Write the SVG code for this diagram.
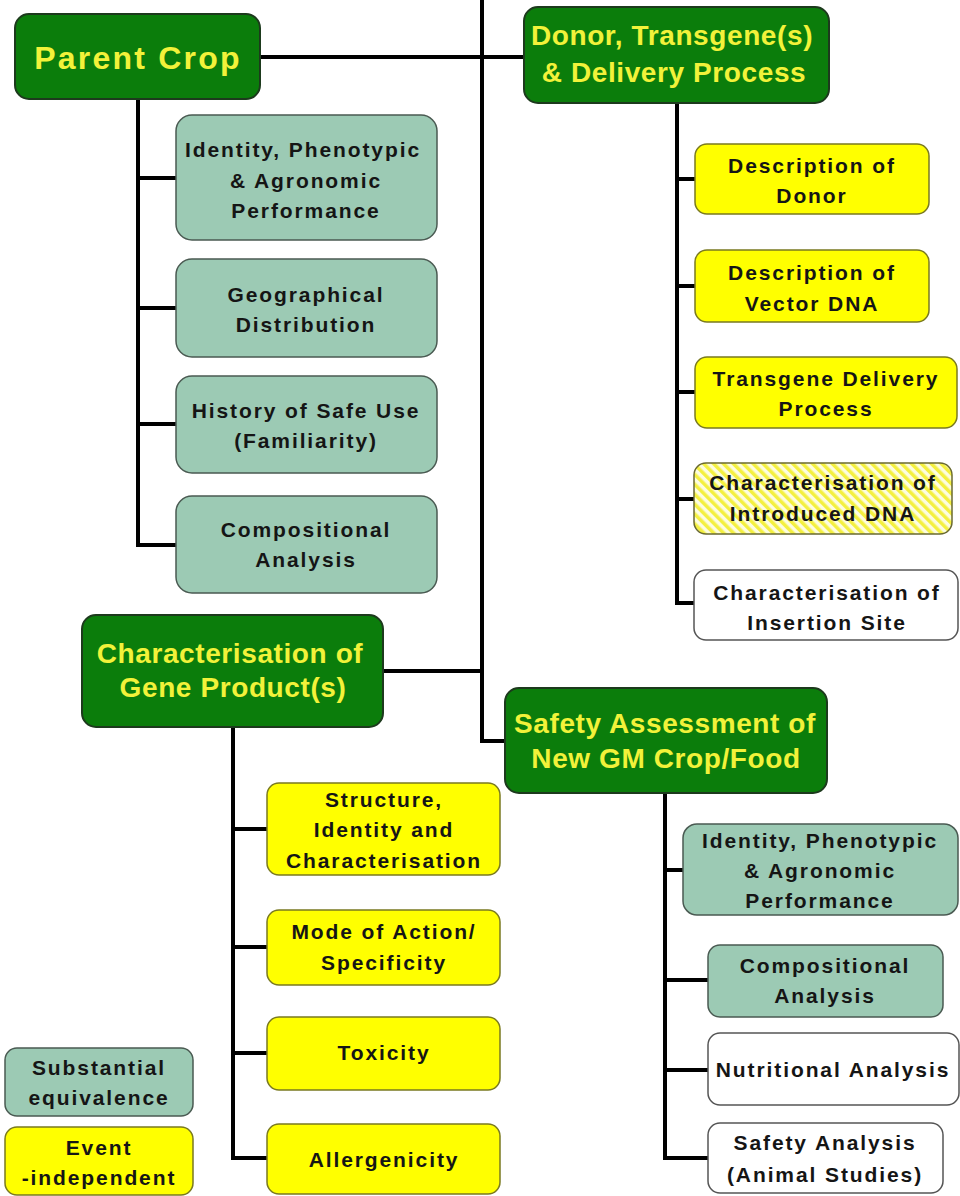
<svg xmlns="http://www.w3.org/2000/svg" width="960" height="1196" viewBox="0 0 960 1196">
<defs>
<pattern id="hatch" patternUnits="userSpaceOnUse" width="7" height="7" patternTransform="rotate(-45)">
<rect width="7" height="7" fill="#fdfde0"/>
<rect width="3.5" height="7" fill="#f4f040"/>
</pattern>
<style>
.title{fill:#0b7d0b;stroke:#1d3a1d;stroke-width:2}
.se{fill:#9ccab4;stroke:#4a5a52;stroke-width:1.5}
.ev{fill:#ffff00;stroke:#7a7a20;stroke-width:1.5}
.wh{fill:#ffffff;stroke:#555;stroke-width:1.5}
.hat{fill:url(#hatch);stroke:#6a6a30;stroke-width:1.5}
.tt{font-family:"Liberation Sans",Arial,sans-serif;font-weight:bold;fill:#f2f23a;text-anchor:middle;font-size:28px;letter-spacing:0.6px}
.bt{font-family:"Liberation Sans",Arial,sans-serif;font-weight:bold;fill:#151515;text-anchor:middle;font-size:21px;letter-spacing:1.9px}
.ln{stroke:#000;stroke-width:4;fill:none}
</style>
</defs>
<rect width="960" height="1196" fill="#ffffff"/>
<g id="connectors" class="ln">
<path d="M482,0 V741 H505"/>
<path d="M260,57 H524"/>
<path d="M383,671 H482"/>
<path d="M138,99 V545 H176 M138,178 H176 M138,308 H176 M138,424 H176"/>
<path d="M677,103 V603 H695 M677,179 H695 M677,286 H695 M677,392 H695 M677,499 H695"/>
<path d="M233,727 V1158 H267 M233,829 H267 M233,947 H267 M233,1053 H267"/>
<path d="M665,793 V1158 H708 M665,870 H683 M665,980 H708 M665,1070 H708"/>
</g>
<g id="parent-crop"><rect class="title" x="15" y="14" width="245" height="85" rx="14"/><text class="tt" x="138" y="69" style="font-size:32px;letter-spacing:2.2px">Parent Crop</text></g>
<g id="donor"><rect class="title" x="524" y="7" width="305" height="96" rx="14"/><text class="tt" x="672" y="45">Donor, Transgene(s)</text><text class="tt" x="674" y="82">&amp; Delivery Process</text></g>
<g id="gene-product"><rect class="title" x="82" y="615" width="301" height="112" rx="14"/><text class="tt" x="230" y="663">Characterisation of</text><text class="tt" x="233" y="697">Gene Product(s)</text></g>
<g id="safety-assessment"><rect class="title" x="505" y="688" width="322" height="105" rx="14"/><text class="tt" x="665" y="733">Safety Assessment of</text><text class="tt" x="666" y="768">New GM Crop/Food</text></g>

<g id="pc-identity"><rect class="se" x="176" y="115" width="261" height="125" rx="16"/><text class="bt" x="303" y="157">Identity, Phenotypic</text><text class="bt" x="306" y="188">&amp; Agronomic</text><text class="bt" x="306" y="218">Performance</text></g>
<g id="pc-geo"><rect class="se" x="176" y="259" width="261" height="98" rx="16"/><text class="bt" x="306" y="302">Geographical</text><text class="bt" x="306" y="332">Distribution</text></g>
<g id="pc-history"><rect class="se" x="176" y="376" width="261" height="97" rx="16"/><text class="bt" x="306" y="418">History of Safe Use</text><text class="bt" x="306" y="448">(Familiarity)</text></g>
<g id="pc-comp"><rect class="se" x="176" y="496" width="261" height="97" rx="16"/><text class="bt" x="306" y="537">Compositional</text><text class="bt" x="306" y="567">Analysis</text></g>

<g id="d-donor"><rect class="ev" x="695" y="144" width="234" height="70" rx="12"/><text class="bt" x="812" y="173">Description of</text><text class="bt" x="812" y="203">Donor</text></g>
<g id="d-vector"><rect class="ev" x="695" y="250" width="234" height="72" rx="12"/><text class="bt" x="812" y="280">Description of</text><text class="bt" x="812" y="311">Vector DNA</text></g>
<g id="d-delivery"><rect class="ev" x="695" y="357" width="262" height="71" rx="12"/><text class="bt" x="826" y="386">Transgene Delivery</text><text class="bt" x="826" y="416">Process</text></g>
<g id="d-introduced"><rect class="hat" x="694" y="463" width="258" height="71" rx="12"/><text class="bt" x="823" y="490">Characterisation of</text><text class="bt" x="823" y="521">Introduced DNA</text></g>
<g id="d-insertion"><rect class="wh" x="694" y="570" width="264" height="70" rx="12"/><text class="bt" x="827" y="600">Characterisation of</text><text class="bt" x="827" y="630">Insertion Site</text></g>

<g id="g-structure"><rect class="ev" x="267" y="783" width="233" height="92" rx="12"/><text class="bt" x="384" y="807">Structure,</text><text class="bt" x="384" y="837">Identity and</text><text class="bt" x="384" y="868">Characterisation</text></g>
<g id="g-mode"><rect class="ev" x="267" y="910" width="233" height="75" rx="12"/><text class="bt" x="384" y="939">Mode of Action/</text><text class="bt" x="384" y="970">Specificity</text></g>
<g id="g-toxicity"><rect class="ev" x="267" y="1017" width="233" height="73" rx="12"/><text class="bt" x="384" y="1060">Toxicity</text></g>
<g id="g-allergenicity"><rect class="ev" x="267" y="1124" width="233" height="70" rx="12"/><text class="bt" x="384" y="1167">Allergenicity</text></g>

<g id="s-identity"><rect class="se" x="683" y="824" width="275" height="91" rx="14"/><text class="bt" x="820" y="848">Identity, Phenotypic</text><text class="bt" x="820" y="878">&amp; Agronomic</text><text class="bt" x="820" y="908">Performance</text></g>
<g id="s-comp"><rect class="se" x="708" y="945" width="235" height="72" rx="12"/><text class="bt" x="825" y="973">Compositional</text><text class="bt" x="825" y="1003">Analysis</text></g>
<g id="s-nutrition"><rect class="wh" x="708" y="1033" width="251" height="72" rx="12"/><text class="bt" x="833" y="1077">Nutritional Analysis</text></g>
<g id="s-safety"><rect class="wh" x="708" y="1123" width="235" height="70" rx="12"/><text class="bt" x="825" y="1150">Safety Analysis</text><text class="bt" x="825" y="1182">(Animal Studies)</text></g>

<g id="legend-se"><rect class="se" x="5" y="1048" width="188" height="68" rx="12"/><text class="bt" x="99" y="1075">Substantial</text><text class="bt" x="99" y="1105">equivalence</text></g>
<g id="legend-ev"><rect class="ev" x="5" y="1127" width="188" height="68" rx="12"/><text class="bt" x="99" y="1155">Event</text><text class="bt" x="99" y="1185">-independent</text></g>
</svg>
